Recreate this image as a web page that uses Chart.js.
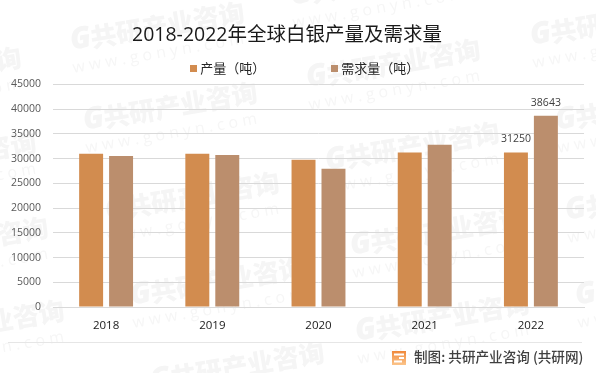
<!DOCTYPE html>
<html><head><meta charset="utf-8">
<style>html,body{margin:0;padding:0;background:#fff}#w{width:596px;height:373px;position:relative}</style>
<script src="https://cdn.jsdelivr.net/npm/chart.js@4"></script>
</head><body><div id="w"><canvas id="c" width="596" height="373"></canvas></div>
<script>
const years = ['2018','2019','2020','2021','2022'];
const production = [31000,31000,29750,31250,31250];
const demand = [30550,30750,27950,32800,38643];
const seriesNames = ['产量（吨）','需求量（吨）'];
const titleText = '2018-2022年全球白银产量及需求量';
const footerText = '制图: 共研产业咨询 (共研网)';
const wmCenters = [[-68,80],[-53,165],[-41,250],[-25,333],[155,35],[168,115],[190,205],[215,290],[235,375],[375,-10],[391,72],[410,155],[435,240],[440,326],[615,30],[640,115],[650,205],[660,290]];
const barColors = ['#d28c4f','#bb8e6d'];
const FONT = '"Open Sans","Noto Sans CJK SC",sans-serif';
const CJK = '"Noto Sans CJK SC",sans-serif';

function marker(color){
  const m=document.createElement('canvas'); m.width=7; m.height=7;
  const x=m.getContext('2d'); x.fillStyle=color; x.fillRect(0,0,7,7);
  return m;
}

const decor = {
  id:'decor',
  beforeDraw(chart){
    const ctx = chart.ctx;
    ctx.save();
    ctx.fillStyle='#fff'; ctx.fillRect(0,0,596,373);
    ctx.textAlign='center'; ctx.textBaseline='middle';
    wmCenters.forEach(([x,y])=>{
      ctx.save(); ctx.translate(x,y); ctx.rotate(-0.17);
      ctx.fillStyle='#f5f5f5';
      ctx.font='900 26px '+CJK;
      ctx.fillText('共研产业咨询',14,-8);
      ctx.font='900 italic 30px "Open Sans",sans-serif';
      ctx.fillText('G',-74,-8);
      ctx.fillStyle='#f6f6f6';
      ctx.font='16px "Open Sans",sans-serif';
      ctx.fillText('w w w . g o n y n . c o m',0,19);
      ctx.restore();
    });
    ctx.restore();
  },
  afterDraw(chart){
    const ctx = chart.ctx;
    ctx.save();
    // footer rule
    ctx.strokeStyle='#e6e6e6'; ctx.lineWidth=1;
    ctx.beginPath(); ctx.moveTo(8,342.5); ctx.lineTo(582,342.5); ctx.stroke();
    // footer logo
    const g = ctx.createLinearGradient(0,351,0,365);
    g.addColorStop(0,'#f0883a'); g.addColorStop(1,'#fbc48a');
    ctx.fillStyle=g; ctx.fillRect(392,351,14,14);
    ctx.fillStyle='#fff';
    ctx.fillRect(394,353.5,10,2); ctx.fillRect(399,357,5,2); ctx.fillRect(394,360.5,8,2);
    // footer text
    ctx.fillStyle='#404040'; ctx.textAlign='left'; ctx.textBaseline='middle';
    ctx.font='500 13.6px '+CJK;
    ctx.fillText(footerText,414,357);
    // value labels on last category
    ctx.font='10.5px "Open Sans",sans-serif'; ctx.fillStyle='#404040'; ctx.textAlign='center';
    chart.data.datasets.forEach((ds,i)=>{
      const bar = chart.getDatasetMeta(i).data[years.length-1];
      ctx.fillText(String(ds.data[years.length-1]),bar.x,bar.y-13);
    });
    ctx.restore();
  },
  beforeLayout(chart){
    const f = chart.legend.fit;
    chart.legend.fit=function(){ f.call(this); this.height=26; };
  },
  afterLayout(chart){
    chart.legend.top = 61-68;
    chart.legend.left += 28;
    chart.titleBlock.right -= 10;
  }
};

new Chart(document.getElementById('c'),{
  type:'bar',
  data:{labels:years,datasets:[
    {label:seriesNames[0],data:production,backgroundColor:barColors[0],categoryPercentage:0.564,barPercentage:0.8},
    {label:seriesNames[1],data:demand,backgroundColor:barColors[1],categoryPercentage:0.564,barPercentage:0.8}
  ]},
  plugins:[decor],
  options:{
    responsive:false,animation:false,
    layout:{padding:{left:0,right:12,top:0,bottom:0}},
    plugins:{
      tooltip:{enabled:false},
      title:{display:true,text:titleText,color:'#1a1a1a',font:{family:FONT,size:19.5,weight:'normal'},padding:{top:24,bottom:11}},
      legend:{position:'top',labels:{boxWidth:1,boxHeight:7,usePointStyle:true,pointStyleWidth:1,padding:68.5,color:'#262626',font:{family:CJK,size:13},
        generateLabels(chart){
          return Chart.defaults.plugins.legend.labels.generateLabels(chart).map((it,i)=>Object.assign(it,{pointStyle:marker(barColors[i])}));
        }}}
    },
    scales:{
      x:{
        grid:{display:false,drawTicks:false},border:{color:'#d9d9d9'},
        afterFit(s){s.height=66;},
        ticks:{color:'#1a1a1a',padding:12,maxRotation:0,font:{family:FONT,size:11.5}}
      },
      y:{
        min:0,max:45000,
        afterFit(s){s.width=53;},
        grid:{color:'#d9d9d9',drawTicks:false},border:{display:false},
        ticks:{stepSize:5000,color:'#595959',padding:12,font:{family:FONT,size:10.5},callback:v=>String(v)}
      }
    }
  }
});
</script></body></html>
